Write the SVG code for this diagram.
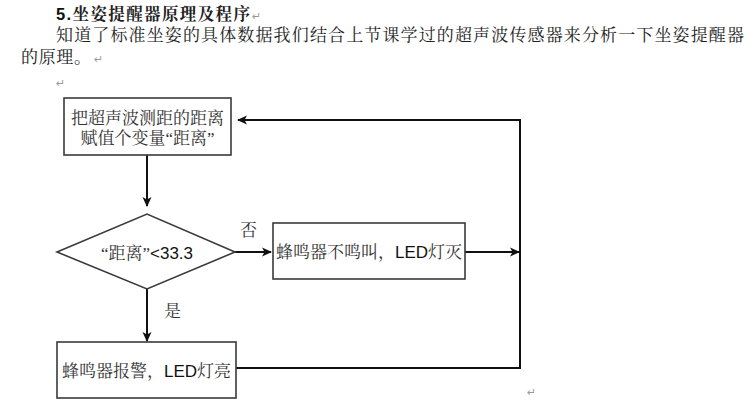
<svg xmlns="http://www.w3.org/2000/svg" width="750" height="404" viewBox="0 0 750 404">
<defs>
<style>
.t{font-family:"Liberation Serif","Noto Serif CJK SC","Noto Sans CJK SC",serif;fill:#222;}
.b{font-family:"Liberation Serif","Noto Serif CJK SC","Noto Sans CJK SC",serif;fill:#333;font-size:17px;}
.s{font-family:"Liberation Sans",Arial,sans-serif;fill:#111;}
.pm{font-family:"DejaVu Sans",sans-serif;fill:#999;font-size:11px;}
.box{fill:#fff;stroke:#3a3a3a;stroke-width:1.6;}
.ln{fill:none;stroke:#111;stroke-width:2;}
</style>
<marker id="ah" markerWidth="10" markerHeight="10" refX="9" refY="5" orient="auto" markerUnits="userSpaceOnUse">
<path d="M0,0.5 L10,5 L0,9.5 L2.5,5 Z" fill="#111"/>
</marker>
</defs>
<rect width="750" height="404" fill="#fff"/>
<g id="heading">
<text class="t" x="56" y="20" font-size="16.5" font-weight="bold" textLength="194" lengthAdjust="spacing"><tspan class="s" font-weight="bold" fill="#222">5.</tspan>坐姿提醒器原理及程序</text>
<text class="pm" x="252" y="20">↵</text>
<text class="t" x="56" y="41" font-size="17" textLength="688" lengthAdjust="spacing">知道了标准坐姿的具体数据我们结合上节课学过的超声波传感器来分析一下坐姿提醒器</text>
<text class="t" x="21" y="63" font-size="17" textLength="70" lengthAdjust="spacing">的原理。</text>
<text class="pm" x="94" y="63">↵</text>
<text class="pm" x="56" y="87">↵</text>
<text class="pm" x="527" y="396">↵</text>
</g>
<g id="connectors">
<line class="ln" x1="147" y1="155" x2="147" y2="206" marker-end="url(#ah)"/>
<line class="ln" x1="147" y1="289" x2="147" y2="341" marker-end="url(#ah)"/>
<line class="ln" x1="235" y1="252" x2="271" y2="252" marker-end="url(#ah)"/>
<line class="ln" x1="465" y1="252" x2="519" y2="252" marker-end="url(#ah)"/>
<polyline class="ln" points="236,368 520,368 520,120 238,120" marker-end="url(#ah)"/>
<text class="b" x="240" y="236" font-size="15">否</text>
<text class="b" x="164" y="317" font-size="15">是</text>
</g>
<g id="node-assign">
<rect class="box" x="64" y="98" width="167" height="57"/>
<text class="b" x="147.5" y="124" text-anchor="middle">把超声波测距的距离</text>
<text class="b" x="147.5" y="144" text-anchor="middle">赋值个变量“距离”</text>
</g>
<g id="node-decision">
<polygon class="box" points="57,252 147,214 235,252 147,289" stroke-width="2" stroke="#111"/>
<text class="b" x="147" y="259" text-anchor="middle">“距离”<tspan class="s">&lt;33.3</tspan></text>
</g>
<g id="node-off">
<rect class="box" x="273" y="223" width="192" height="56"/>
<text class="b" x="369" y="258" text-anchor="middle">蜂鸣器不鸣叫，<tspan class="s">LED</tspan>灯灭</text>
</g>
<g id="node-on">
<rect class="box" x="57" y="342" width="179" height="56"/>
<text class="b" x="146.5" y="377" text-anchor="middle">蜂鸣器报警，<tspan class="s">LED</tspan>灯亮</text>
</g>
</svg>
